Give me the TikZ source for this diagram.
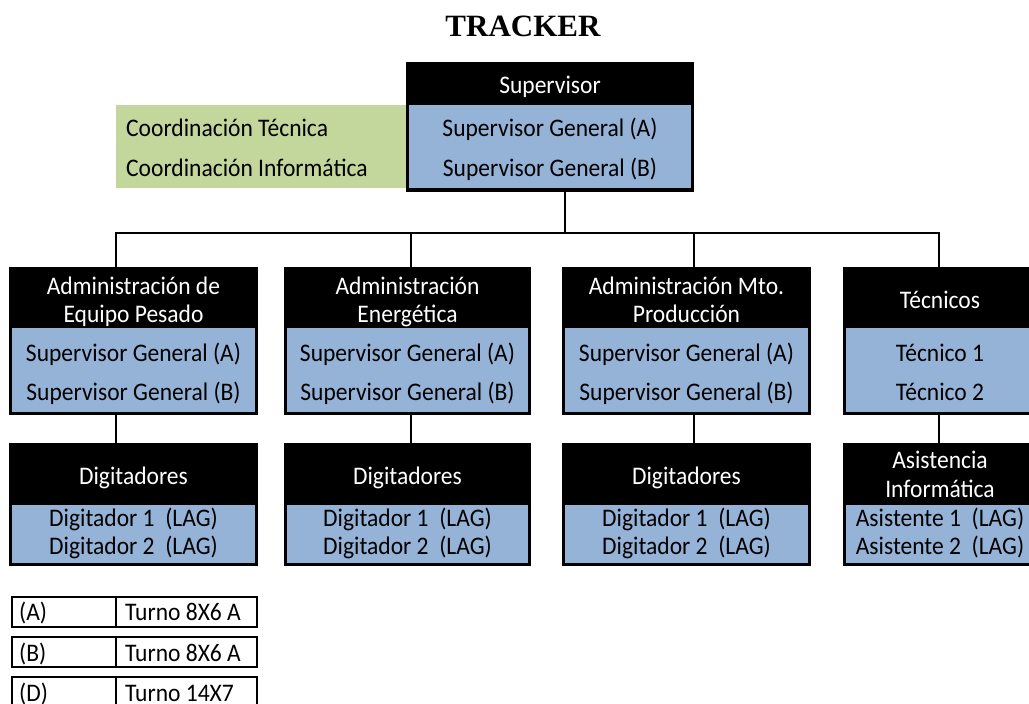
\documentclass[tikz,border=0pt]{standalone}
\usepackage{fontspec}
\setmainfont{Carlito}[FakeStretch=0.93]
\newfontfamily\titlefont{Liberation Serif}
\definecolor{paleblue}{HTML}{95B3D7}
\definecolor{palegreen}{HTML}{C3D69B}
\begin{document}
\begin{tikzpicture}[x=1pt,y=-1pt,
  font=\fontsize{25.3}{30}\selectfont,
  frame/.style={fill=black, draw=none, inner sep=0pt, outer sep=0pt, anchor=north west},
  body/.style={fill=paleblue, draw=none, inner sep=0pt, outer sep=0pt, anchor=north west},
  note/.style={fill=palegreen, draw=none, inner sep=0pt, outer sep=0pt, anchor=north west},
  hd/.style={text=white, anchor=base, inner sep=0pt},
  tx/.style={text=black, anchor=base, inner sep=0pt},
  link/.style={line width=2pt, line cap=rect},
  cell/.style={draw=black, line width=2pt, inner sep=0pt, outer sep=0pt, anchor=north west}]
\useasboundingbox (0,0) rectangle (1029,704);
\clip (0,0) rectangle (1029,704);

% title
\node[anchor=base, inner sep=0pt, font=\titlefont\bfseries\fontsize{31}{31}\selectfont] (title) at (523,36) {TRACKER};

% top: supervisor and coordination
\node[frame, minimum width=288pt, minimum height=130pt] (sup) at (406,62) {};
\node[body, minimum width=282pt, minimum height=83pt] (supb) at (409,105) {};
\node[note, minimum width=290pt, minimum height=83pt] (coord) at (116,105) {};
\node[hd] (suph) at (550,93) {Supervisor};
\node[tx] (supa) at (550,136) {Supervisor General (A)};
\node[tx] (supbt) at (550,176) {Supervisor General (B)};
\node[tx, anchor=base west] (coorda) at (126,136) {Coordinación Técnica};
\node[tx, anchor=base west] (coordb) at (126,176) {Coordinación Informática};

% second level
\node[frame, minimum width=249pt, minimum height=148pt] (adm1) at (9,267) {};
\node[body, minimum width=243pt, minimum height=84pt] (adm1b) at (12,328) {};
\node[frame, minimum width=247pt, minimum height=148pt] (adm2) at (284,267) {};
\node[body, minimum width=241pt, minimum height=84pt] (adm2b) at (287,328) {};
\node[frame, minimum width=249pt, minimum height=148pt] (adm3) at (562,267) {};
\node[body, minimum width=243pt, minimum height=84pt] (adm3b) at (565,328) {};
\node[frame, minimum width=194pt, minimum height=148pt] (tec) at (843,267) {};
\node[body, minimum width=188pt, minimum height=84pt] (tecb) at (846,328) {};

\node[hd] (adm1h1) at (133.5,294) {Administración de};
\node[hd] (adm1h2) at (133.5,322) {Equipo Pesado};
\node[tx] (adm1a) at (133.5,361) {Supervisor General (A)};
\node[tx] (adm1c) at (133.5,400) {Supervisor General (B)};

\node[hd] (adm2h1) at (407.5,294) {Administración};
\node[hd] (adm2h2) at (407.5,322) {Energética};
\node[tx] (adm2a) at (407.5,361) {Supervisor General (A)};
\node[tx] (adm2c) at (407.5,400) {Supervisor General (B)};

\node[hd] (adm3h1) at (686.5,294) {Administración Mto.};
\node[hd] (adm3h2) at (686.5,322) {Producción};
\node[tx] (adm3a) at (686.5,361) {Supervisor General (A)};
\node[tx] (adm3c) at (686.5,400) {Supervisor General (B)};

\node[hd] (tech) at (940,308) {Técnicos};
\node[tx] (teca) at (940,361) {Técnico 1};
\node[tx] (tecc) at (940,400) {Técnico 2};

% third level
\node[frame, minimum width=249pt, minimum height=123pt] (dig1) at (9,443) {};
\node[body, minimum width=243pt, minimum height=58pt] (dig1b) at (12,505) {};
\node[frame, minimum width=247pt, minimum height=123pt] (dig2) at (284,443) {};
\node[body, minimum width=241pt, minimum height=58pt] (dig2b) at (287,505) {};
\node[frame, minimum width=249pt, minimum height=123pt] (dig3) at (562,443) {};
\node[body, minimum width=243pt, minimum height=58pt] (dig3b) at (565,505) {};
\node[frame, minimum width=194pt, minimum height=123pt] (asi) at (843,443) {};
\node[body, minimum width=188pt, minimum height=58pt] (asib) at (846,505) {};

\node[hd] (dig1h) at (133.5,484) {Digitadores};
\node[tx] (dig1a) at (133.5,526) {Digitador 1\ \ (LAG)};
\node[tx] (dig1c) at (133.5,554) {Digitador 2\ \ (LAG)};
\node[hd] (dig2h) at (407.5,484) {Digitadores};
\node[tx] (dig2a) at (407.5,526) {Digitador 1\ \ (LAG)};
\node[tx] (dig2c) at (407.5,554) {Digitador 2\ \ (LAG)};
\node[hd] (dig3h) at (686.5,484) {Digitadores};
\node[tx] (dig3a) at (686.5,526) {Digitador 1\ \ (LAG)};
\node[tx] (dig3c) at (686.5,554) {Digitador 2\ \ (LAG)};
\node[hd] (asih1) at (940,468) {Asistencia};
\node[hd] (asih2) at (940,497) {Informática};
\node[tx] (asia) at (940,526) {Asistente 1\ \ (LAG)};
\node[tx] (asic) at (940,554) {Asistente 2\ \ (LAG)};

% connectors
\coordinate (j0) at (565,233);
\coordinate (j1) at (116,233);
\coordinate (j2) at (411,233);
\coordinate (j3) at (694,233);
\coordinate (j4) at (939,233);
\draw[link] (sup.south -| j0) -- (j0);
\draw[link] (j1) -- (j4);
\draw[link] (j1) -- (j1 |- adm1.north);
\draw[link] (j2) -- (j2 |- adm2.north);
\draw[link] (j3) -- (j3 |- adm3.north);
\draw[link] (j4) -- (j4 |- tec.north);
\draw[link] (adm1.south -| j1) -- (j1 |- dig1.north);
\draw[link] (adm2.south -| j2) -- (j2 |- dig2.north);
\draw[link] (adm3.south -| j3) -- (j3 |- dig3.north);
\draw[link] (tec.south -| j4) -- (j4 |- asi.north);

% shift legend
\node[cell, minimum width=104pt, minimum height=30pt] (ka) at (12,597) {};
\node[cell, minimum width=141pt, minimum height=30pt] (va) at (116,597) {};
\node[cell, minimum width=104pt, minimum height=30pt] (kb) at (12,637) {};
\node[cell, minimum width=141pt, minimum height=30pt] (vb) at (116,637) {};
\node[cell, minimum width=104pt, minimum height=32pt] (kd) at (12,677) {};
\node[cell, minimum width=141pt, minimum height=32pt] (vd) at (116,677) {};
\node[tx, anchor=base west] (kat) at (19,620) {(A)};
\node[tx, anchor=base west] (vat) at (125,620) {Turno 8X6 A};
\node[tx, anchor=base west] (kbt) at (19,661) {(B)};
\node[tx, anchor=base west] (vbt) at (125,661) {Turno 8X6 A};
\node[tx, anchor=base west] (kdt) at (19,701) {(D)};
\node[tx, anchor=base west] (vdt) at (125,701) {Turno 14X7};
\end{tikzpicture}
\end{document}
